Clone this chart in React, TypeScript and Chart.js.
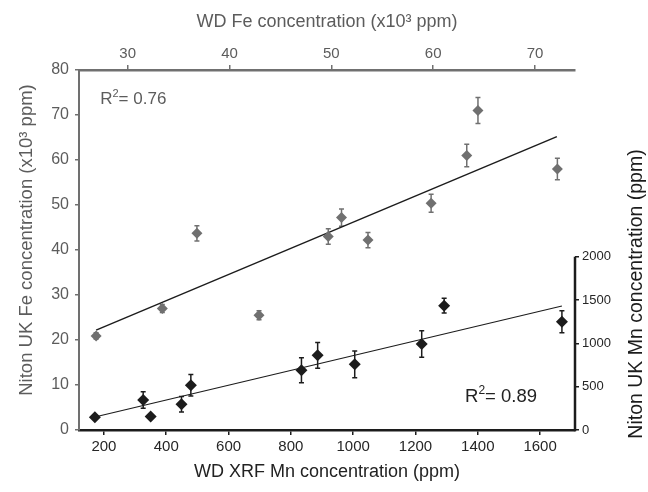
import { useEffect, useRef } from "react";
import { Chart, registerables } from "chart.js";
Chart.register(...registerables);

// Fe: WD (top axis, x10^3 ppm) vs Niton UK (left axis, x10^3 ppm)
const FE_WD = [26.9, 33.4, 36.8, 42.9, 49.7, 51.0, 53.6, 59.8, 63.3, 64.4, 72.2];
const FE_NITON = [20.9, 27.0, 43.7, 25.5, 43.0, 47.2, 42.2, 50.4, 61.0, 71.0, 58.0];
const FE_ERR = [0.7, 0.9, 1.7, 1.0, 1.7, 1.9, 1.7, 2.0, 2.5, 2.9, 2.4];
const FE_FIT_X = [26.9, 72.15];
const FE_FIT_Y = [22.2, 65.2];

// Mn: WD XRF (bottom axis, ppm) vs Niton UK (right axis, ppm)
const MN_WD = [171, 326, 350, 449, 479, 834, 886, 1005, 1220, 1292, 1670];
const MN_NITON = [147, 346, 156, 298, 517, 689, 862, 758, 993, 1435, 1250];
const MN_ERR = [20, 96, 20, 90, 125, 144, 148, 154, 152, 85, 127];
const MN_FIT_X = [174, 1670];
const MN_FIT_Y = [153, 1431];

const TOP_TICKS = [30, 40, 50, 60, 70];
const BOTTOM_TICKS = [200, 400, 600, 800, 1000, 1200, 1400, 1600];
const RIGHT_TICKS = [0, 500, 1000, 1500, 2000];

const R2_FE = "0.76";
const R2_MN = "0.89";

const LEFT_TITLE = "Niton UK Fe concentration (x10³ ppm)";
const RIGHT_TITLE = "Niton UK Mn concentration (ppm)";

const GRAY = "#707070";
const GRAY_TEXT = "#5c5c5c";
const BLACK = "#1c1c1c";
const FONT = "'Liberation Sans', Arial, Helvetica, sans-serif";

function drawR2(ctx: CanvasRenderingContext2D, x: number, yc: number, val: string, color: string, size: number) {
  ctx.save();
  ctx.fillStyle = color;
  ctx.textAlign = "left";
  ctx.textBaseline = "alphabetic";
  const base = yc + size * 0.36;
  ctx.font = `${size}px ${FONT}`;
  ctx.fillText("R", x, base);
  let cx = x + ctx.measureText("R").width;
  ctx.font = `${size * 0.65}px ${FONT}`;
  ctx.fillText("2", cx, base - size * 0.42);
  cx += ctx.measureText("2").width;
  ctx.font = `${size}px ${FONT}`;
  ctx.fillText("= " + val, cx, base);
  ctx.restore();
}

function drawVerticalTitle(ctx: CanvasRenderingContext2D, text: string, baselineX: number, cy: number, color: string, size: number) {
  ctx.save();
  ctx.translate(baselineX, cy);
  ctx.rotate(-Math.PI / 2);
  ctx.fillStyle = color;
  ctx.font = `${size}px ${FONT}`;
  ctx.textAlign = "center";
  ctx.textBaseline = "alphabetic";
  ctx.fillText(text, 0, 0);
  ctx.restore();
}

const errorBars = {
  id: "errorBars",
  beforeDatasetsDraw(chart: any) {
    const c = chart.ctx as CanvasRenderingContext2D;
    const draw = (xs: number[], ys: number[], errs: number[], xid: string, yid: string, color: string) => {
      const sx = chart.scales[xid];
      const sy = chart.scales[yid];
      c.save();
      c.strokeStyle = color;
      c.lineWidth = 1.5;
      xs.forEach((xv, i) => {
        const px = sx.getPixelForValue(xv);
        const t = sy.getPixelForValue(ys[i] + errs[i]);
        const b = sy.getPixelForValue(ys[i] - errs[i]);
        c.beginPath();
        c.moveTo(px, t);
        c.lineTo(px, b);
        c.moveTo(px - 2.5, t);
        c.lineTo(px + 2.5, t);
        c.moveTo(px - 2.5, b);
        c.lineTo(px + 2.5, b);
        c.stroke();
      });
      c.restore();
    };
    draw(FE_WD, FE_NITON, FE_ERR, "x2", "y", GRAY);
    draw(MN_WD, MN_NITON, MN_ERR, "x", "y2", BLACK);
  },
  afterDraw(chart: any) {
    const c = chart.ctx as CanvasRenderingContext2D;
    const y2 = chart.scales.y2;
    const area = chart.chartArea;
    // right axis line, only over its labelled range
    c.save();
    c.strokeStyle = BLACK;
    c.lineWidth = 2.5;
    c.beginPath();
    c.moveTo(area.right, y2.getPixelForValue(RIGHT_TICKS[0]) + 1.25);
    c.lineTo(area.right, y2.getPixelForValue(RIGHT_TICKS[RIGHT_TICKS.length - 1]));
    c.stroke();
    c.restore();
    // vertical axis titles
    drawVerticalTitle(c, LEFT_TITLE, 31.5, 240, GRAY_TEXT, 18.5);
    drawVerticalTitle(c, RIGHT_TITLE, 642, 294, BLACK, 19.5);
    // R² labels
    drawR2(c, chart.scales.x2.getPixelForValue(27.3), chart.scales.y.getPixelForValue(73.8), R2_FE, GRAY_TEXT, 17);
    drawR2(c, chart.scales.x.getPixelForValue(1359), chart.scales.y2.getPixelForValue(400), R2_MN, "#222", 18.5);
  },
};

export default function App() {
  const ref = useRef<HTMLCanvasElement>(null);
  useEffect(() => {
    Chart.defaults.font.family = FONT;
    const chart = new Chart(ref.current as HTMLCanvasElement, {
      type: "scatter",
      data: {
        datasets: [
          {
            label: "Fe",
            data: FE_WD.map((x, i) => ({ x, y: FE_NITON[i] })),
            xAxisID: "x2",
            yAxisID: "y",
            pointStyle: "rectRot",
            pointRadius: 5.5,
            backgroundColor: GRAY,
            borderColor: GRAY,
            borderWidth: 0,
          },
          {
            label: "Mn",
            data: MN_WD.map((x, i) => ({ x, y: MN_NITON[i] })),
            xAxisID: "x",
            yAxisID: "y2",
            pointStyle: "rectRot",
            pointRadius: 6,
            backgroundColor: BLACK,
            borderColor: BLACK,
            borderWidth: 0,
          },
          {
            label: "Fe fit",
            data: FE_FIT_X.map((x, i) => ({ x, y: FE_FIT_Y[i] })),
            xAxisID: "x2",
            yAxisID: "y",
            showLine: true,
            pointRadius: 0,
            borderColor: BLACK,
            borderWidth: 1.5,
          },
          {
            label: "Mn fit",
            data: MN_FIT_X.map((x, i) => ({ x, y: MN_FIT_Y[i] })),
            xAxisID: "x",
            yAxisID: "y2",
            showLine: true,
            pointRadius: 0,
            borderColor: BLACK,
            borderWidth: 1.2,
          },
        ],
      },
      options: {
        responsive: false,
        animation: false,
        devicePixelRatio: 1,
        layout: { padding: 0 },
        plugins: { legend: { display: false }, tooltip: { enabled: false } },
        scales: {
          x: {
            type: "linear",
            position: "bottom",
            min: 120,
            max: 1712,
            afterBuildTicks: (s: any) => { s.ticks = BOTTOM_TICKS.map((v) => ({ value: v })); },
            afterFit: (s: any) => { s.height = 62; },
            border: { color: BLACK, width: 2.5 },
            grid: { drawOnChartArea: false, color: BLACK, tickLength: 5, lineWidth: 1.5 },
            ticks: { color: "#262626", font: { size: 15 }, padding: 3, callback: (v: any) => String(v) },
            title: { display: true, text: "WD XRF Mn concentration (ppm)", color: "#222", font: { size: 18 }, padding: { top: 0, bottom: 9 } },
          },
          x2: {
            type: "linear",
            position: "top",
            min: 25.22,
            max: 73.93,
            afterBuildTicks: (s: any) => { s.ticks = TOP_TICKS.map((v) => ({ value: v })); },
            afterFit: (s: any) => { s.height = 70; },
            border: { color: GRAY, width: 2.5 },
            grid: { drawOnChartArea: false, color: GRAY, tickLength: 5, lineWidth: 1.5 },
            ticks: { color: GRAY_TEXT, font: { size: 15 }, padding: 2, callback: (v: any) => String(v) },
            title: { display: true, text: "WD Fe concentration (x10³ ppm)", color: GRAY_TEXT, font: { size: 18 }, padding: { top: 11, bottom: 0 } },
          },
          y: {
            type: "linear",
            position: "left",
            min: 0,
            max: 80,
            ticks: { stepSize: 10, color: GRAY_TEXT, font: { size: 16 }, padding: 6 },
            afterFit: (s: any) => { s.width = 79; },
            border: { color: GRAY, width: 2 },
            grid: { drawOnChartArea: false, color: GRAY, tickLength: 4, lineWidth: 1.5 },
            title: { display: false },
          },
          y2: {
            type: "linear",
            position: "right",
            min: 0,
            max: 4155,
            afterBuildTicks: (s: any) => { s.ticks = RIGHT_TICKS.map((v) => ({ value: v })); },
            afterFit: (s: any) => { s.width = 73; },
            border: { display: false },
            grid: { drawOnChartArea: false, color: BLACK, tickLength: 4, lineWidth: 1.5 },
            ticks: { color: "#262626", font: { size: 13 }, padding: 3, callback: (v: any) => String(v) },
            title: { display: false },
          },
        },
      },
      plugins: [errorBars],
    } as any);
    return () => chart.destroy();
  }, []);
  return (
    <div style={{ position: "fixed", left: 0, top: 0, width: 648, height: 492, background: "#fff" }}>
      <canvas ref={ref} width={648} height={492} style={{ display: "block", width: 648, height: 492 }} />
    </div>
  );
}
